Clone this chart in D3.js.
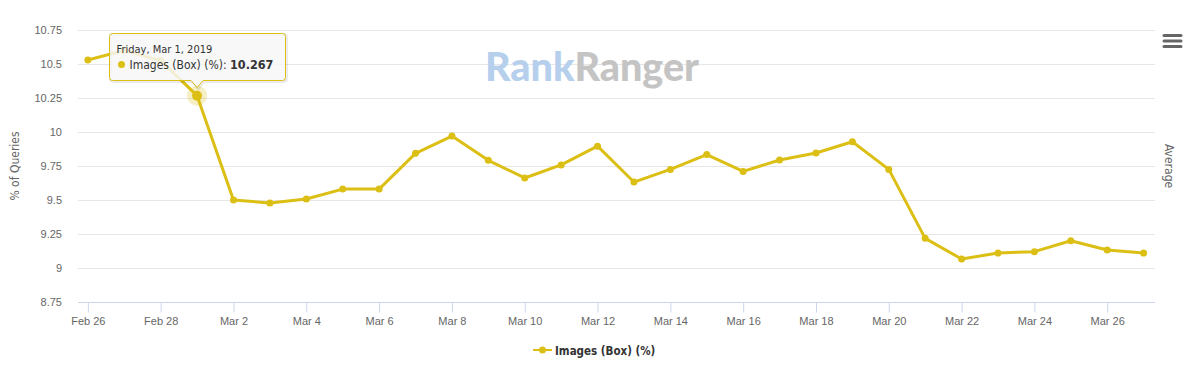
<!DOCTYPE html>
<html>
<head>
<meta charset="utf-8">
<script src="https://cdn.jsdelivr.net/npm/d3@7"></script>
<style>
  html, body { margin: 0; padding: 0; background: #fff; }
  svg { display: block; font-family: "DejaVu Sans Condensed", "DejaVu Sans", Verdana, sans-serif; }
</style>
</head>
<body>
<svg id="chart" width="1191" height="369"></svg>
<script>
// ---- data ----
const dates = [
  "2019-02-26","2019-02-27","2019-02-28","2019-03-01","2019-03-02","2019-03-03",
  "2019-03-04","2019-03-05","2019-03-06","2019-03-07","2019-03-08","2019-03-09",
  "2019-03-10","2019-03-11","2019-03-12","2019-03-13","2019-03-14","2019-03-15",
  "2019-03-16","2019-03-17","2019-03-18","2019-03-19","2019-03-20","2019-03-21",
  "2019-03-22","2019-03-23","2019-03-24","2019-03-25","2019-03-26","2019-03-27"
];
const imagesBox = [
  10.529, 10.6, 10.525, 10.267, 9.5, 9.478,
  9.507, 9.58, 9.58, 9.843, 9.97, 9.792,
  9.662, 9.758, 9.896, 9.632, 9.725, 9.834,
  9.71, 9.794, 9.846, 9.928, 9.725, 9.218,
  9.066, 9.11, 9.12, 9.2, 9.132, 9.11
];
const xTickDates = [
  "2019-02-26","2019-02-28","2019-03-02","2019-03-04","2019-03-06","2019-03-08",
  "2019-03-10","2019-03-12","2019-03-14","2019-03-16","2019-03-18","2019-03-20",
  "2019-03-22","2019-03-24","2019-03-26"
];
const yTicks = [8.75, 9, 9.25, 9.5, 9.75, 10, 10.25, 10.5, 10.75];
const seriesName = "Images (Box) (%)";
const yTitle = "% of Queries";
const rightTitle = "Average";
const hoverIndex = 3;

// ---- setup ----
const color = "#dcbf14";
const parse = d3.utcParse("%Y-%m-%d");
const data = dates.map((d, i) => ({ date: parse(d), value: imagesBox[i] }));
const svg = d3.select("#chart");

const plot = { left: 78, right: 1155, top: 30, bottom: 302 };
const hour = 3600 * 1000;
const x = d3.scaleUtc()
  .domain([new Date(data[0].date.getTime() - 6.5 * hour), new Date(data[data.length - 1].date.getTime() + 7.5 * hour)])
  .range([plot.left, plot.right]);
const y = d3.scaleLinear().domain([8.75, 10.75]).range([plot.bottom, plot.top]);

// gridlines
svg.append("g").selectAll("line").data(yTicks.filter(t => t !== 8.75)).join("line")
  .attr("x1", plot.left).attr("x2", plot.right)
  .attr("y1", d => Math.round(y(d)) + 0.5).attr("y2", d => Math.round(y(d)) + 0.5)
  .attr("stroke", "#e6e6e6").attr("stroke-width", 1);

// watermark
const wm = svg.append("text")
  .attr("x", 485).attr("y", 81)
  .attr("font-family", "Lato, 'Open Sans', sans-serif")
  .attr("font-weight", 900).attr("font-size", 40)
  .attr("textLength", 214).attr("lengthAdjust", "spacingAndGlyphs");
wm.append("tspan").attr("fill", "#b5cfec").text("Rank");
wm.append("tspan").attr("fill", "#c4c4c4").text("Ranger");

// y axis
const yAxis = d3.axisLeft(y).tickValues(yTicks).tickSize(0).tickPadding(0)
  .tickFormat(d => String(+d.toFixed(2)));
const yg = svg.append("g").attr("transform", `translate(${plot.left - 16},0)`).call(yAxis);
yg.select(".domain").remove();
yg.selectAll("text").attr("fill", "#666").attr("font-size", 11).attr("dy", "0.35em");

// x axis
const xAxis = d3.axisBottom(x).tickValues(xTickDates.map(parse)).tickSize(10).tickPadding(5)
  .tickFormat(d3.utcFormat("%b %-d"));
const xg = svg.append("g").attr("transform", `translate(0,${plot.bottom + 0.5})`).call(xAxis);
xg.select(".domain").attr("stroke", "#ccd6eb").attr("d", `M${plot.left},0H${plot.right}`);
xg.selectAll(".tick line").attr("stroke", "#ccd6eb");
xg.selectAll("text").attr("fill", "#666").attr("font-size", 11);

// axis titles
svg.append("text")
  .attr("transform", `translate(19,${(plot.top + plot.bottom) / 2}) rotate(-90)`)
  .attr("text-anchor", "middle").attr("fill", "#666").attr("font-size", 12)
  .text(yTitle);
svg.append("text")
  .attr("transform", `translate(1165,${(plot.top + plot.bottom) / 2}) rotate(90)`)
  .attr("text-anchor", "middle").attr("fill", "#666").attr("font-size", 12)
  .text(rightTitle);

// menu icon
svg.append("g").selectAll("line").data([0, 1, 2]).join("line")
  .attr("x1", 1164).attr("x2", 1181)
  .attr("y1", d => 35.5 + d * 5.5).attr("y2", d => 35.5 + d * 5.5)
  .attr("stroke", "#666").attr("stroke-width", 3).attr("stroke-linecap", "round");

// line
const line = d3.line().x(d => x(d.date)).y(d => y(d.value));
svg.append("path").datum(data)
  .attr("d", line).attr("fill", "none")
  .attr("stroke", color).attr("stroke-width", 3).attr("stroke-linejoin", "round").attr("stroke-linecap", "round");
svg.append("g").selectAll("circle").data(data).join("circle")
  .attr("cx", d => x(d.date)).attr("cy", d => y(d.value)).attr("r", 3.5)
  .attr("fill", color);

// hover marker
const hp = data[hoverIndex];
const hx = x(hp.date), hy = y(hp.value);
svg.append("circle").attr("cx", hx).attr("cy", hy).attr("r", 10).attr("fill", color).attr("opacity", 0.25);
svg.append("circle").attr("cx", hx).attr("cy", hy).attr("r", 5).attr("fill", color);

// tooltip
const tw = 176, th = 47;
const tl = Math.round(hx - tw / 2) + 0.5, tt = Math.round(hy - 63) + 0.5;
const r = 3, pw = 6, ph = 7;
const tipPath = `M${tl + r},${tt} H${tl + tw - r} Q${tl + tw},${tt} ${tl + tw},${tt + r} V${tt + th - r} Q${tl + tw},${tt + th} ${tl + tw - r},${tt + th} H${hx + pw} L${hx},${tt + th + ph} L${hx - pw},${tt + th} H${tl + r} Q${tl},${tt + th} ${tl},${tt + th - r} V${tt + r} Q${tl},${tt} ${tl + r},${tt} Z`;
const tip = svg.append("g");
tip.append("path").attr("d", tipPath).attr("transform", "translate(1,1)")
  .attr("fill", "none").attr("stroke", "#000").attr("stroke-opacity", 0.08).attr("stroke-width", 3);
tip.append("path").attr("d", tipPath)
  .attr("fill", "rgba(247,247,247,0.85)").attr("stroke", color).attr("stroke-width", 1);
tip.append("text").attr("x", tl + 7).attr("y", tt + 19)
  .attr("font-size", 11).attr("fill", "#333")
  .text(d3.utcFormat("%A, %b %-d, %Y")(hp.date));
tip.append("circle").attr("cx", tl + 12).attr("cy", tt + 31).attr("r", 3.5).attr("fill", color);
const t2 = tip.append("text").attr("x", tl + 20).attr("y", tt + 35).attr("font-size", 12).attr("fill", "#333");
t2.append("tspan").text(seriesName + ": ");
t2.append("tspan").attr("font-weight", "bold").attr("font-size", 12.5).text(d3.format(".3f")(hp.value));

// legend
const lg = svg.append("g").attr("transform", "translate(533,350)");
lg.append("line").attr("x1", 0).attr("x2", 19).attr("y1", 0).attr("y2", 0)
  .attr("stroke", color).attr("stroke-width", 2);
lg.append("circle").attr("cx", 9.5).attr("cy", 0).attr("r", 3.5).attr("fill", color);
lg.append("text").attr("x", 22).attr("y", 4.5)
  .attr("font-size", 11.5).attr("font-weight", "bold").attr("fill", "#333")
  .text(seriesName);
</script>
</body>
</html>
